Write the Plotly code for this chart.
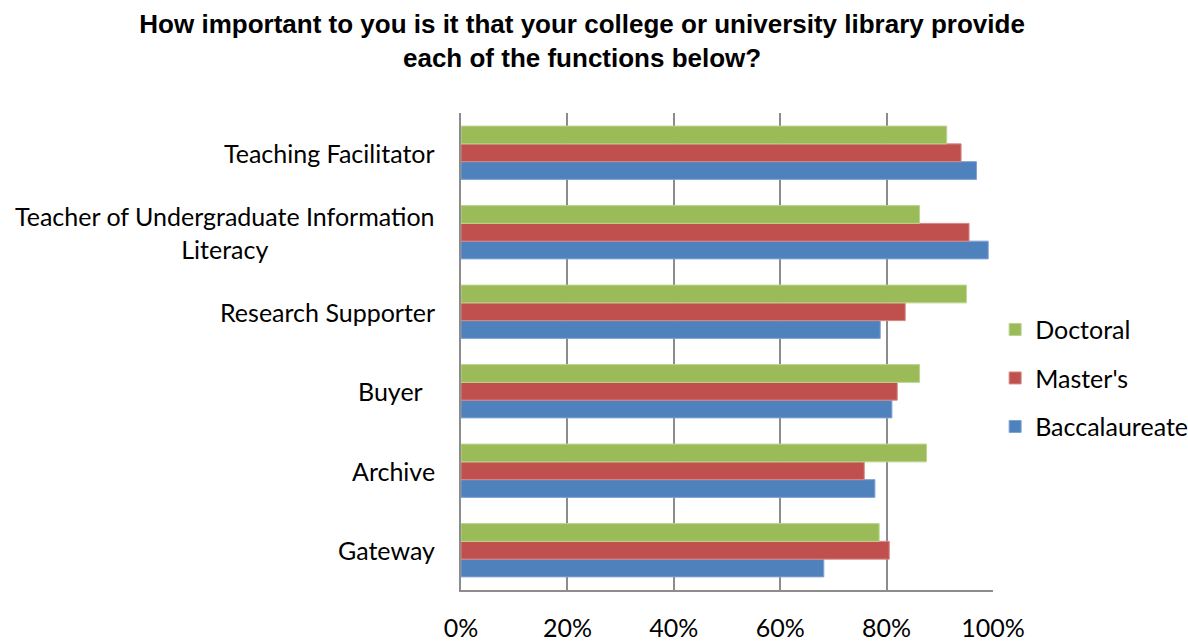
import plotly.graph_objects as go

# Library functions, listed bottom-to-top as they appear on the y axis
functions = [
    "Gateway",
    "Archive",
    "Buyer ",
    "Research Supporter",
    "Teacher of Undergraduate Information<br>Literacy",
    "Teaching Facilitator",
]

# Share of respondents rating each function important (%)
baccalaureate = [68.2, 77.8, 81.0, 78.8, 99.1, 96.9]
masters = [80.5, 75.8, 82.0, 83.5, 95.5, 94.0]
doctoral = [78.6, 87.5, 86.2, 95.0, 86.2, 91.3]

x_ticks = [0, 20, 40, 60, 80, 100]
x_tick_text = ["0%", "20%", "40%", "60%", "80%", "100%"]

# name, values, fill, edge, legend rank
series = [
    ("Baccalaureate", baccalaureate, "#4F81BD", "#7FA3D2", 3),
    ("Master's", masters, "#C0504D", "#D78A88", 2),
    ("Doctoral", doctoral, "#9BBB59", "#BCD48E", 1),
]

label_font = dict(family="Lato, 'Open Sans', sans-serif", size=25, color="#000000")

fig = go.Figure()
for name, vals, color, edge, rank in series:
    fig.add_trace(go.Bar(
        y=functions,
        x=vals,
        name=name,
        orientation="h",
        legendgroup=name,
        legendrank=rank,
        marker=dict(color=color, line=dict(color=edge, width=1)),
    ))

# Category labels (centered multi-line block, right-aligned to the axis)
for f in functions:
    fig.add_annotation(
        x=0, xref="paper", y=f, yref="y",
        text=f, showarrow=False,
        xanchor="right", yanchor="middle", align="center",
        xshift=-24 if not f.endswith(" ") else -30,
        font=label_font,
    )

fig.update_layout(
    width=1188,
    height=642,
    paper_bgcolor="white",
    plot_bgcolor="white",
    margin=dict(l=461, r=195, t=113, b=52, autoexpand=False),
    barmode="group",
    bargap=0.33,
    bargroupgap=0,
    title=dict(
        text="<b>How important to you is it that your college or university library provide<br>each of the functions below?</b>",
        x=0.49, xanchor="center",
        xref="container", yref="container",
        y=1 - 33 / 642, yanchor="middle",
        font=dict(family="Liberation Sans, Arial, sans-serif", size=26, color="#000000"),
    ),
    showlegend=True,
    legend=dict(
        x=1.004, xanchor="left",
        y=0.444, yanchor="middle",
        traceorder="grouped",
        tracegroupgap=13,
        font=label_font,
        itemwidth=30,
    ),
    xaxis=dict(
        range=[0, 100],
        tickvals=x_ticks,
        ticktext=x_tick_text,
        tickfont=label_font,
        showgrid=True,
        gridcolor="#8C8C8C",
        gridwidth=1.5,
        zeroline=False,
        showline=True,
        linecolor="#8C8C8C",
        linewidth=1.5,
        ticks="",
        ticklabelstandoff=15,
        automargin=False,
        fixedrange=True,
    ),
    yaxis=dict(
        categoryorder="array",
        categoryarray=functions,
        showticklabels=False,
        showgrid=False,
        zeroline=False,
        showline=True,
        linecolor="#8C8C8C",
        linewidth=1.5,
        ticks="",
        automargin=False,
        fixedrange=True,
    ),
)

fig.write_html("out.html")
